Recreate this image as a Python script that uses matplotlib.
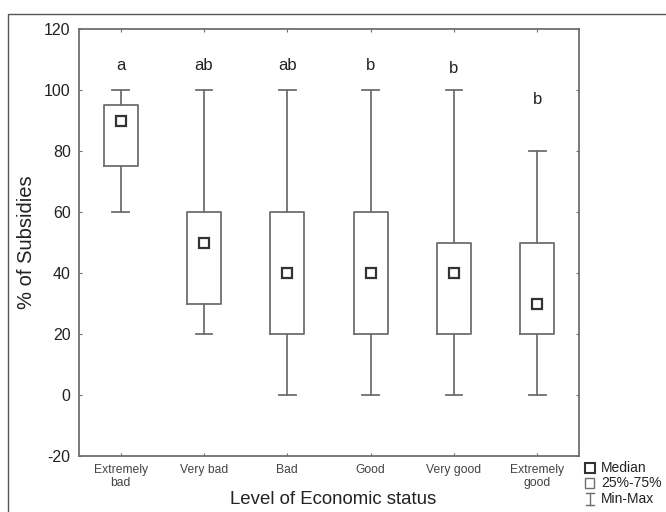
import matplotlib
matplotlib.use("Agg")
import matplotlib.pyplot as plt
from matplotlib.lines import Line2D
from matplotlib.patches import Rectangle

plt.rcParams["font.family"] = ["Liberation Sans", "DejaVu Sans"]
plt.rcParams["axes.unicode_minus"] = False

categories = ["Extremely\nbad", "Very bad", "Bad", "Good", "Very good", "Extremely\ngood"]
mins = [60, 20, 0, 0, 0, 0]
q1 = [75, 30, 20, 20, 20, 20]
medians = [90, 50, 40, 40, 40, 30]
q3 = [95, 60, 60, 60, 50, 50]
maxs = [100, 100, 100, 100, 100, 80]
letters = ["a", "ab", "ab", "b", "b", "b"]
letter_y = [108, 108, 108, 108, 107, 97]

LINE = "#6e6e6e"
DARK = "#333333"
TEXT = "#222222"

fig = plt.figure(figsize=(6.66, 5.12), dpi=100)
ax = fig.add_axes([79 / 666, 1 - 456 / 512, 500 / 666, 426.7 / 512])

stats = [
    {"whislo": lo, "q1": a, "med": m, "q3": b, "whishi": hi, "label": c}
    for lo, a, m, b, hi, c in zip(mins, q1, medians, q3, maxs, categories)
]
pos = list(range(1, len(categories) + 1))
ax.bxp(
    stats,
    positions=pos,
    widths=0.41,
    capwidths=0.2,
    showfliers=False,
    boxprops=dict(color=LINE, linewidth=1.3),
    whiskerprops=dict(color=LINE, linewidth=1.3),
    capprops=dict(color=LINE, linewidth=1.3),
    medianprops=dict(linewidth=0),
)
ax.plot(pos, medians, linestyle="none", marker="s", markersize=7.5,
        markerfacecolor="white", markeredgecolor=DARK, markeredgewidth=1.6, zorder=5)

for x, y, t in zip(pos, letter_y, letters):
    ax.text(x, y, t, ha="center", va="center", fontsize=12, color=TEXT)

ax.set_xlim(0.5, 6.5)
ax.set_ylim(-20, 120)
ax.set_yticks(range(-20, 121, 20))
ax.set_xticks(pos)
ax.set_xticklabels(categories, fontsize=8.7, color="#444444", linespacing=1.1)
ax.tick_params(axis="y", labelsize=11.5, labelcolor=TEXT)
ax.tick_params(direction="in", length=2.5, color=LINE, top=True, right=True, pad=6)
for sp in ax.spines.values():
    sp.set_color(LINE)
    sp.set_linewidth(1.3)

ax.set_ylabel("% of Subsidies", fontsize=14.5, color=TEXT, labelpad=6)
fig.text(333 / 666, 1 - 500 / 512, "Level of Economic status", ha="center", va="center",
         fontsize=13.4, color=TEXT)

# outer frame around the figure
top = 1 - 13.7 / 512
fig.patches.append(Rectangle((8 / 666, -0.2), 1.2, top + 0.2, transform=fig.transFigure,
                             fill=False, edgecolor="#555555", linewidth=1.0))

# legend drawn by hand
lx = 590 / 666
tx = 601 / 666
fig.add_artist(Line2D([lx], [1 - 468 / 512], marker="s", markersize=6.5, markerfacecolor="white",
                      markeredgecolor=DARK, markeredgewidth=1.5, transform=fig.transFigure))
fig.patches.append(Rectangle((585 / 666, 1 - 488 / 512), 9 / 666, 10 / 512, transform=fig.transFigure,
                             fill=False, edgecolor=LINE, linewidth=1.0))
fig.add_artist(Line2D([lx, lx], [1 - 493 / 512, 1 - 505 / 512], color=LINE, linewidth=1.0,
                      transform=fig.transFigure))
for yy in (493, 505):
    fig.add_artist(Line2D([lx - 4 / 666, lx + 4 / 666], [1 - yy / 512, 1 - yy / 512], color=LINE,
                          linewidth=1.0, transform=fig.transFigure))
for yy, t in ((468, "Median"), (483, "25%-75%"), (499, "Min-Max")):
    fig.text(tx, 1 - yy / 512, t, ha="left", va="center", fontsize=10, color=TEXT)

fig.savefig("out.png", dpi=100)
